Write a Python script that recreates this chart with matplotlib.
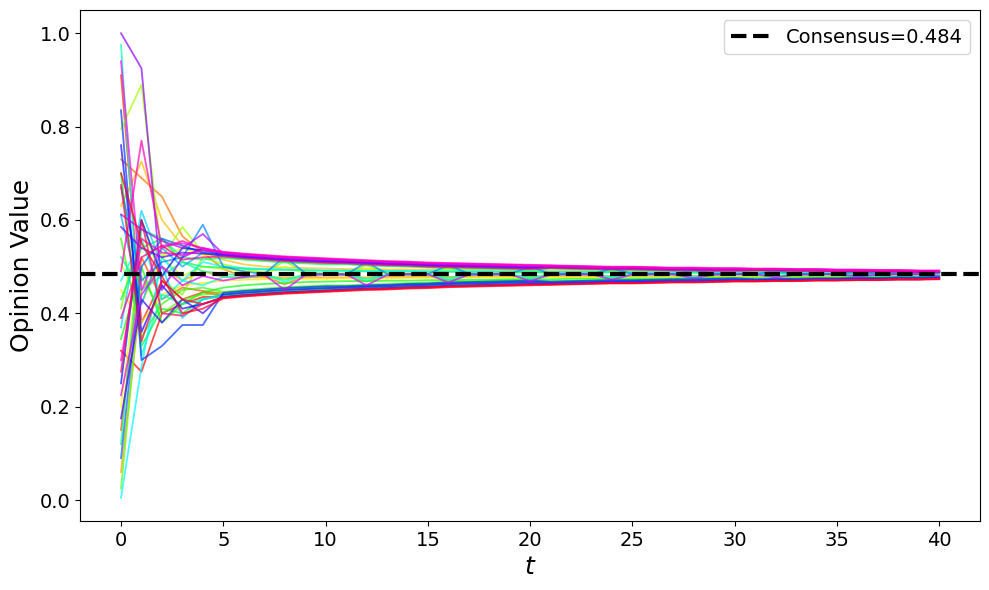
import numpy as np
import matplotlib
matplotlib.use("Agg")
import matplotlib.pyplot as plt

# opinion values in thousandths, t = 0..40, one list per agent
a00 = [320, 275, 400, 420, 435, 436, 440, 443, 446, 448, 450, 452, 454, 455, 457, 458, 460, 461, 462, 463, 464, 463, 464, 465, 466, 466, 467, 468, 468, 469, 470, 470, 471, 471, 472, 472, 473, 473, 474, 474, 475]
a01 = [910, 380, 470, 430, 445, 438, 442, 445, 448, 450, 452, 453, 455, 456, 458, 459, 461, 462, 463, 464, 465, 464, 465, 466, 467, 467, 468, 469, 469, 470, 471, 470, 471, 471, 472, 472, 473, 473, 474, 474, 475]
a02 = [150, 520, 430, 455, 448, 442, 446, 449, 452, 454, 456, 457, 459, 460, 462, 463, 465, 466, 467, 468, 469, 467, 468, 469, 470, 470, 471, 472, 472, 473, 474, 472, 473, 473, 474, 474, 475, 475, 476, 476, 477]
a03 = [730, 690, 650, 565, 530, 495, 478, 480, 462, 480, 482, 482, 468, 481, 482, 482, 471, 482, 482, 482, 474, 482, 482, 482, 476, 482, 482, 482, 478, 482, 482, 482, 479, 482, 482, 482, 480, 482, 482, 482, 481]
a04 = [60, 450, 500, 470, 490, 478, 477, 477, 477, 477, 477, 477, 477, 478, 478, 478, 478, 478, 479, 479, 479, 479, 479, 479, 480, 480, 480, 480, 480, 480, 481, 481, 481, 481, 481, 481, 482, 482, 482, 482, 482]
a05 = [630, 725, 600, 545, 530, 515, 505, 500, 498, 497, 496, 495, 495, 494, 494, 493, 493, 493, 492, 492, 492, 491, 491, 491, 490, 490, 490, 490, 490, 489, 489, 489, 489, 489, 488, 488, 488, 488, 488, 488, 487]
a06 = [450, 380, 440, 460, 465, 470, 472, 473, 474, 474, 474, 475, 475, 475, 476, 476, 476, 477, 477, 477, 477, 478, 478, 478, 478, 479, 479, 479, 479, 479, 480, 480, 480, 480, 480, 481, 481, 481, 481, 481, 481]
a07 = [200, 560, 520, 540, 525, 521, 517, 514, 511, 509, 507, 506, 504, 502, 501, 499, 498, 497, 496, 495, 494, 497, 496, 495, 494, 494, 493, 492, 492, 491, 491, 492, 492, 491, 491, 490, 490, 489, 489, 488, 488]
a08 = [505, 420, 520, 480, 500, 495, 490, 485, 500, 485, 484, 484, 496, 485, 484, 484, 493, 484, 484, 484, 491, 484, 484, 484, 489, 484, 484, 484, 488, 484, 484, 484, 487, 484, 484, 484, 486, 484, 484, 484, 485]
a09 = [795, 890, 520, 585, 530, 520, 516, 513, 510, 508, 506, 506, 504, 502, 501, 499, 498, 497, 496, 495, 494, 496, 495, 494, 493, 493, 492, 491, 491, 490, 490, 491, 491, 490, 490, 489, 489, 488, 488, 487, 487]
a10 = [410, 600, 470, 440, 520, 505, 495, 487, 512, 488, 486, 486, 503, 487, 486, 486, 498, 486, 486, 486, 495, 486, 485, 485, 492, 485, 485, 485, 490, 485, 485, 485, 488, 485, 485, 485, 487, 485, 485, 485, 486]
a11 = [25, 480, 400, 430, 440, 443, 447, 450, 453, 455, 457, 458, 460, 461, 463, 464, 466, 467, 468, 469, 470, 467, 468, 469, 470, 470, 471, 472, 472, 473, 474, 472, 473, 473, 474, 474, 475, 475, 476, 476, 477]
a12 = [560, 350, 420, 450, 455, 446, 450, 453, 456, 458, 460, 460, 462, 463, 465, 466, 468, 469, 470, 471, 472, 469, 470, 471, 472, 472, 473, 474, 474, 475, 476, 473, 474, 474, 475, 475, 476, 476, 477, 477, 478]
a13 = [345, 500, 380, 420, 445, 455, 460, 463, 465, 467, 468, 469, 469, 470, 470, 471, 471, 472, 472, 473, 473, 473, 474, 474, 474, 475, 475, 475, 476, 476, 476, 476, 477, 477, 477, 477, 478, 478, 478, 478, 478]
a14 = [700, 330, 410, 400, 430, 437, 441, 444, 447, 449, 451, 452, 454, 455, 457, 458, 460, 461, 462, 463, 464, 464, 465, 466, 467, 467, 468, 469, 469, 470, 471, 470, 471, 471, 472, 472, 473, 473, 474, 474, 475]
a15 = [430, 540, 560, 510, 500, 498, 496, 494, 493, 492, 491, 491, 490, 490, 490, 489, 489, 489, 489, 488, 488, 488, 488, 488, 488, 487, 487, 487, 487, 487, 487, 487, 486, 486, 486, 486, 486, 486, 486, 486, 486]
a16 = [120, 580, 560, 520, 515, 519, 515, 512, 509, 507, 505, 505, 503, 501, 500, 498, 497, 496, 495, 494, 493, 496, 495, 494, 493, 493, 492, 491, 491, 490, 490, 491, 491, 490, 490, 489, 489, 488, 488, 487, 487]
a17 = [520, 450, 480, 510, 490, 485, 480, 483, 472, 483, 484, 484, 474, 483, 484, 484, 476, 483, 484, 484, 477, 483, 484, 484, 478, 483, 484, 484, 479, 483, 484, 484, 480, 483, 484, 484, 481, 483, 484, 484, 482]
a18 = [975, 310, 440, 420, 430, 439, 443, 446, 449, 451, 453, 454, 456, 457, 459, 460, 462, 463, 464, 465, 466, 465, 466, 467, 468, 468, 469, 470, 470, 471, 472, 471, 472, 472, 473, 473, 474, 474, 475, 475, 476]
a19 = [470, 560, 430, 470, 460, 478, 476, 482, 468, 481, 483, 483, 470, 482, 483, 483, 472, 482, 483, 483, 474, 482, 483, 483, 476, 483, 483, 483, 478, 483, 483, 483, 479, 483, 483, 483, 480, 483, 483, 483, 481]
a20 = [5, 285, 520, 470, 510, 500, 497, 495, 494, 493, 492, 492, 491, 491, 491, 490, 490, 490, 490, 489, 489, 489, 489, 489, 488, 488, 488, 488, 488, 488, 488, 487, 487, 487, 487, 487, 487, 487, 487, 486, 486]
a21 = [370, 620, 500, 390, 430, 441, 445, 448, 451, 453, 455, 456, 458, 459, 461, 462, 464, 465, 466, 467, 468, 466, 467, 468, 469, 469, 470, 471, 471, 472, 473, 471, 472, 472, 473, 473, 474, 474, 475, 475, 476]
a22 = [610, 420, 540, 500, 530, 523, 519, 516, 513, 511, 509, 508, 506, 504, 503, 501, 500, 499, 498, 497, 496, 498, 497, 496, 495, 495, 494, 493, 493, 492, 492, 493, 493, 492, 492, 491, 491, 490, 490, 489, 489]
a23 = [670, 470, 510, 520, 590, 500, 490, 484, 522, 486, 484, 483, 510, 485, 484, 484, 503, 485, 484, 484, 500, 485, 484, 484, 496, 485, 484, 484, 493, 485, 484, 484, 491, 485, 484, 484, 489, 485, 484, 484, 487]
a24 = [90, 500, 560, 545, 530, 525, 521, 518, 515, 513, 511, 510, 508, 506, 505, 503, 502, 501, 500, 499, 498, 499, 498, 497, 496, 496, 495, 494, 494, 493, 493, 493, 493, 492, 492, 491, 491, 490, 490, 489, 489]
a25 = [835, 300, 330, 375, 375, 444, 448, 451, 454, 456, 458, 458, 460, 461, 463, 464, 466, 467, 468, 469, 470, 468, 469, 470, 471, 471, 472, 473, 473, 474, 475, 473, 474, 474, 475, 475, 476, 476, 477, 477, 478]
a26 = [250, 600, 480, 540, 535, 526, 522, 519, 516, 514, 512, 511, 509, 507, 506, 504, 503, 502, 501, 500, 499, 500, 499, 498, 497, 497, 496, 495, 495, 494, 494, 494, 494, 493, 493, 492, 492, 491, 491, 490, 490]
a27 = [760, 360, 460, 410, 420, 435, 439, 442, 445, 447, 449, 451, 453, 454, 456, 457, 459, 460, 461, 462, 463, 463, 464, 465, 466, 466, 467, 468, 468, 469, 470, 469, 470, 470, 471, 471, 472, 472, 473, 473, 474]
a28 = [175, 430, 380, 430, 400, 440, 444, 447, 450, 452, 454, 455, 457, 458, 460, 461, 463, 464, 465, 466, 467, 465, 466, 467, 468, 468, 469, 470, 470, 471, 472, 471, 472, 472, 473, 473, 474, 474, 475, 475, 476]
a29 = [585, 540, 520, 530, 528, 524, 520, 517, 514, 512, 510, 509, 507, 505, 504, 502, 501, 500, 499, 498, 497, 499, 498, 497, 496, 496, 495, 494, 494, 493, 493, 493, 493, 492, 492, 491, 491, 490, 490, 489, 489]
a30 = [1000, 925, 450, 520, 540, 529, 525, 522, 519, 517, 515, 513, 511, 509, 508, 506, 505, 504, 503, 502, 501, 501, 500, 499, 498, 498, 497, 496, 496, 495, 495, 495, 495, 494, 494, 493, 493, 492, 492, 491, 491]
a31 = [612, 580, 555, 540, 570, 527, 523, 520, 517, 515, 513, 512, 510, 508, 507, 505, 504, 503, 502, 501, 500, 500, 499, 498, 497, 497, 496, 495, 495, 494, 494, 494, 494, 493, 493, 492, 492, 491, 491, 490, 490]
a32 = [225, 440, 500, 460, 480, 470, 478, 483, 450, 482, 484, 484, 460, 482, 484, 484, 466, 483, 484, 484, 469, 483, 484, 484, 472, 483, 484, 484, 475, 483, 484, 484, 477, 483, 484, 484, 479, 483, 484, 484, 480]
a33 = [940, 450, 545, 550, 540, 532, 528, 525, 522, 520, 518, 516, 514, 512, 511, 509, 508, 507, 506, 505, 504, 503, 502, 501, 500, 500, 499, 498, 498, 497, 497, 496, 496, 495, 495, 494, 494, 493, 493, 492, 492]
a34 = [300, 560, 530, 525, 535, 530, 526, 523, 520, 518, 516, 514, 512, 510, 509, 507, 506, 505, 504, 503, 502, 502, 501, 500, 499, 499, 498, 497, 497, 496, 496, 495, 495, 494, 494, 493, 493, 492, 492, 491, 491]
a35 = [490, 770, 540, 555, 538, 531, 527, 524, 521, 519, 517, 515, 513, 511, 510, 508, 507, 506, 505, 504, 503, 502, 501, 500, 499, 499, 498, 497, 497, 496, 496, 495, 495, 494, 494, 493, 493, 492, 492, 491, 491]
a36 = [390, 520, 545, 515, 520, 522, 518, 515, 512, 510, 508, 507, 505, 503, 502, 500, 499, 498, 497, 496, 495, 497, 496, 495, 494, 494, 493, 492, 492, 491, 491, 492, 492, 491, 491, 490, 490, 489, 489, 488, 488]
a37 = [275, 600, 400, 395, 420, 433, 437, 440, 443, 445, 447, 449, 451, 452, 454, 455, 457, 458, 459, 460, 461, 462, 463, 464, 465, 465, 466, 467, 467, 468, 469, 469, 470, 470, 471, 471, 472, 472, 473, 473, 474]
a38 = [675, 340, 470, 430, 420, 434, 438, 441, 444, 446, 448, 450, 452, 453, 455, 456, 458, 459, 460, 461, 462, 462, 463, 464, 465, 465, 466, 467, 467, 468, 469, 469, 470, 470, 471, 471, 472, 472, 473, 473, 474]
a39 = [700, 550, 480, 400, 410, 432, 436, 439, 442, 444, 446, 448, 450, 451, 453, 454, 456, 457, 458, 459, 460, 461, 462, 463, 464, 464, 465, 466, 466, 467, 468, 468, 469, 469, 470, 470, 471, 471, 472, 472, 473]

agents = [a00, a01, a02, a03, a04, a05, a06, a07, a08, a09,
          a10, a11, a12, a13, a14, a15, a16, a17, a18, a19,
          a20, a21, a22, a23, a24, a25, a26, a27, a28, a29,
          a30, a31, a32, a33, a34, a35, a36, a37, a38, a39]

consensus = 0.484

fig, ax = plt.subplots(figsize=(9.89, 5.9), dpi=100)
colors = plt.cm.hsv(np.linspace(0, 1, len(agents)))
for vals, c in zip(agents, colors):
    y = np.array(vals) / 1000.0
    t = np.arange(len(y))
    ax.plot(t, y, color=c, lw=1.3, alpha=0.7)

ax.axhline(consensus, color='black', ls='--', lw=3, label=f'Consensus={consensus:.3f}')
ax.set_xlabel('$t$', fontsize=18)
ax.set_ylabel('Opinion Value', fontsize=18)
ax.tick_params(axis='both', labelsize=14)
ax.legend(fontsize=14, loc='upper right')
fig.subplots_adjust(left=0.081, right=0.991, top=0.983, bottom=0.117)
fig.savefig('out.png', dpi=100)
